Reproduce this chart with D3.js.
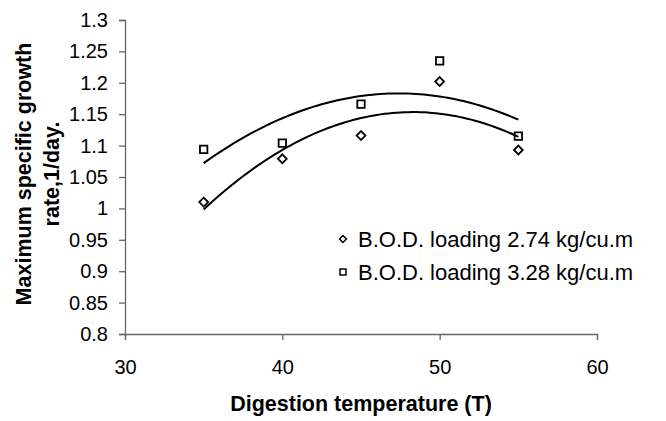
<!DOCTYPE html>
<meta charset="utf-8">
<style>
body { margin: 0; background: #fff; }
text { font-family: "Liberation Sans", Arial, sans-serif; fill: #000; }
.axis path, .axis line { stroke: #666; stroke-width: 1.3; }
.axis text { font-size: 20px; }
.title { font-weight: bold; font-size: 21.5px; }
</style>
<body>
<script src="https://d3js.org/d3.v7.min.js"></script>
<script>

// data
var temps = [35, 40, 45, 50, 55];
var bod274 = [1.010, 1.079, 1.116, 1.202, 1.093];
var bod328 = [1.094, 1.104, 1.166, 1.235, 1.115];
var legendLabels = ["B.O.D. loading 2.74 kg/cu.m", "B.O.D. loading 3.28 kg/cu.m"];
var xTicks = [30, 40, 50, 60];
var yTicks = [0.8, 0.85, 0.9, 0.95, 1, 1.05, 1.1, 1.15, 1.2, 1.25, 1.3];

var W = 666, H = 421;
var margin = {top: 20, right: 69, bottom: 87, left: 125},
    width = W - margin.left - margin.right,
    height = H - margin.top - margin.bottom;

var svg = d3.select("body").append("svg")
  .attr("width", W)
  .attr("height", H);

var g = svg.append("g")
  .attr("transform", "translate(" + margin.left + "," + margin.top + ")");

var x = d3.scaleLinear().domain([30, 60]).range([0, width]);
var y = d3.scaleLinear().domain([0.8, 1.3]).range([height, 0]);

// axes
g.append("g")
  .attr("class", "axis")
  .attr("transform", "translate(0," + height + ")")
  .call(d3.axisBottom(x).tickValues(xTicks).tickSize(6).tickPadding(20).tickSizeOuter(6))
  .call(a => a.selectAll("text").attr("dy", "0.71em"));

g.append("g")
  .attr("class", "axis")
  .call(d3.axisLeft(y).tickValues(yTicks).tickFormat(d3.format("")).tickSize(6).tickPadding(11).tickSizeOuter(6));

g.selectAll(".axis .domain").attr("fill", "none");

// polynomial (order 2) trend line, least squares like the spreadsheet one
function quadFit(xs, ys) {
  var s = [0, 0, 0, 0, 0], t = [0, 0, 0];
  xs.forEach(function(xv, i) {
    for (var k = 0; k < 5; k++) s[k] += Math.pow(xv, k);
    for (var k = 0; k < 3; k++) t[k] += ys[i] * Math.pow(xv, k);
  });
  var A = [[s[0], s[1], s[2], t[0]], [s[1], s[2], s[3], t[1]], [s[2], s[3], s[4], t[2]]];
  for (var i = 0; i < 3; i++) {
    for (var j = i + 1; j < 3; j++) {
      var f = A[j][i] / A[i][i];
      for (var k = i; k < 4; k++) A[j][k] -= f * A[i][k];
    }
  }
  var c = [0, 0, 0];
  for (var i = 2; i >= 0; i--) {
    var v = A[i][3];
    for (var k = i + 1; k < 3; k++) v -= A[i][k] * c[k];
    c[i] = v / A[i][i];
  }
  return function(xv) { return c[0] + c[1] * xv + c[2] * xv * xv; };
}

var line = d3.line().x(d => x(d[0])).y(d => y(d[1]));
var xs = d3.range(temps[0], temps[temps.length - 1] + 0.001, 0.25);

[bod274, bod328].forEach(function(series) {
  var f = quadFit(temps, series);
  g.append("path")
    .datum(xs.map(v => [v, f(v)]))
    .attr("fill", "none")
    .attr("stroke", "#000")
    .attr("stroke-width", 2)
    .attr("d", line);
});

// markers
var diamond = d3.symbol().type(d3.symbolDiamond2).size(50);
var square = d3.symbol().type(d3.symbolSquare2).size(70);

g.selectAll(".d274")
  .data(temps.map((t, i) => [t, bod274[i]]))
  .enter().append("path")
  .attr("d", diamond)
  .attr("transform", d => "translate(" + x(d[0]) + "," + y(d[1]) + ")")
  .attr("fill", "#fff").attr("stroke", "#000").attr("stroke-width", 1.8);

g.selectAll(".d328")
  .data(temps.map((t, i) => [t, bod328[i]]))
  .enter().append("path")
  .attr("d", square)
  .attr("transform", d => "translate(" + x(d[0]) + "," + y(d[1]) + ")")
  .attr("fill", "none").attr("stroke", "#000").attr("stroke-width", 1.8);

// legend
var legend = svg.append("g").attr("transform", "translate(343,239)");
[diamond.size(30), square.size(45)].forEach(function(sym, i) {
  legend.append("path")
    .attr("d", sym)
    .attr("transform", "translate(0," + (i * 33) + ")")
    .attr("fill", "none").attr("stroke", "#000").attr("stroke-width", 1.5);
  legend.append("text")
    .attr("x", 15)
    .attr("y", i * 33 + 8)
    .style("font-size", "22px")
    .text(legendLabels[i]);
});

// axis titles
svg.append("text")
  .attr("class", "title")
  .attr("x", margin.left + width / 2)
  .attr("y", 411)
  .attr("text-anchor", "middle")
  .text("Digestion temperature (T)");

var yt = svg.append("text")
  .attr("class", "title")
  .attr("transform", "translate(31,174) rotate(-90)")
  .attr("text-anchor", "middle");
yt.append("tspan").attr("x", 0).attr("y", 0).text("Maximum specific growth");
yt.append("tspan").attr("x", 0).attr("y", 28).text("rate,1/day.");

</script>
</body>
